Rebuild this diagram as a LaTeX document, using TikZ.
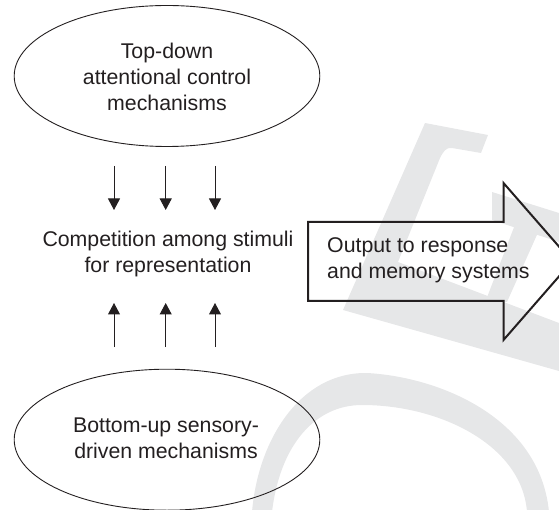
\documentclass[tikz,border=0pt]{standalone}
\usepackage{fontspec}
\setmainfont{Liberation Sans}
\usetikzlibrary{shapes.geometric,arrows.meta}
\definecolor{wm}{RGB}{230,231,232}
\definecolor{ink}{RGB}{35,31,32}
\begin{document}
\begin{tikzpicture}[x=1pt,y=-1pt,
  lbl/.style={font=\fontsize{21.3}{26}\selectfont, text=ink, align=center, inner sep=0pt},
  oval/.style={draw=ink, line width=0.9pt, ellipse, minimum width=305.6pt, minimum height=141pt, inner sep=0pt},
  flow/.style={draw=ink, line width=1pt, -{Triangle[length=11.5pt,width=12pt]}},
  bigarrow/.style={draw=ink, line width=2pt, miter limit=20},
  wmfill/.style={fill=wm, draw=none}]
\useasboundingbox (0,0) rectangle (559,510);
\clip (0,0) rectangle (559,510);
% watermark
\fill[wmfill] (425,123) -- (488,135) -- (481,153) -- (452,148) .. controls (446,147) and (443,152) .. (440,158)
  -- (398,262) -- (559,323) -- (559,371) -- (343,310) -- cycle;
\fill[wmfill] (492,192) -- (559,213) -- (559,242) -- (492,220) -- cycle;
\fill[wmfill] (516,222) -- (540,228) -- (507,302) -- (486,300) -- cycle;
\fill[wmfill] (252,512) .. controls (258,440) and (300,372) .. (367,373)
  .. controls (440,377) and (540,418) .. (549,512) -- (527,512)
  .. controls (522,445) and (440,405) .. (362,405)
  .. controls (315,405) and (280,445) .. (272,512) -- cycle;
% ovals
\node[oval] (topov) at (167,76) {};
\node[lbl] (toptxt) at (167,76.5) {Top-down\\attentional control\\mechanisms};
\node[oval] (botov) at (167,439.7) {};
\node[lbl] (bottxt) at (166,438.5) {Bottom-up sensory-\\driven mechanisms};
% centre text
\node[lbl] (comp) at (168,254) {Competition among stimuli\\for representation};
% arrows
\coordinate (d1s) at (114,166); \coordinate (d1e) at (114,210);
\coordinate (d2s) at (165.7,166); \coordinate (d2e) at (165.7,210);
\coordinate (d3s) at (215,166); \coordinate (d3e) at (215,210);
\coordinate (u1s) at (114,347); \coordinate (u1e) at (114,303);
\coordinate (u2s) at (165.7,347); \coordinate (u2e) at (165.7,303);
\coordinate (u3s) at (215,347); \coordinate (u3e) at (215,303);
\draw[flow] (d1s) -- (d1e);
\draw[flow] (d2s) -- (d2e);
\draw[flow] (d3s) -- (d3e);
\draw[flow] (u1s) -- (u1e);
\draw[flow] (u2s) -- (u2e);
\draw[flow] (u3s) -- (u3e);
% big output arrow
\draw[bigarrow] (308,222) -- (503.5,222) -- (503.5,183) -- (572,261.5) -- (503.5,340) -- (503.5,301) -- (308,301) -- cycle;
\node[lbl, align=left, anchor=west] (outtxt) at (327,260) {Output to response\\and memory systems};
\end{tikzpicture}
\end{document}
